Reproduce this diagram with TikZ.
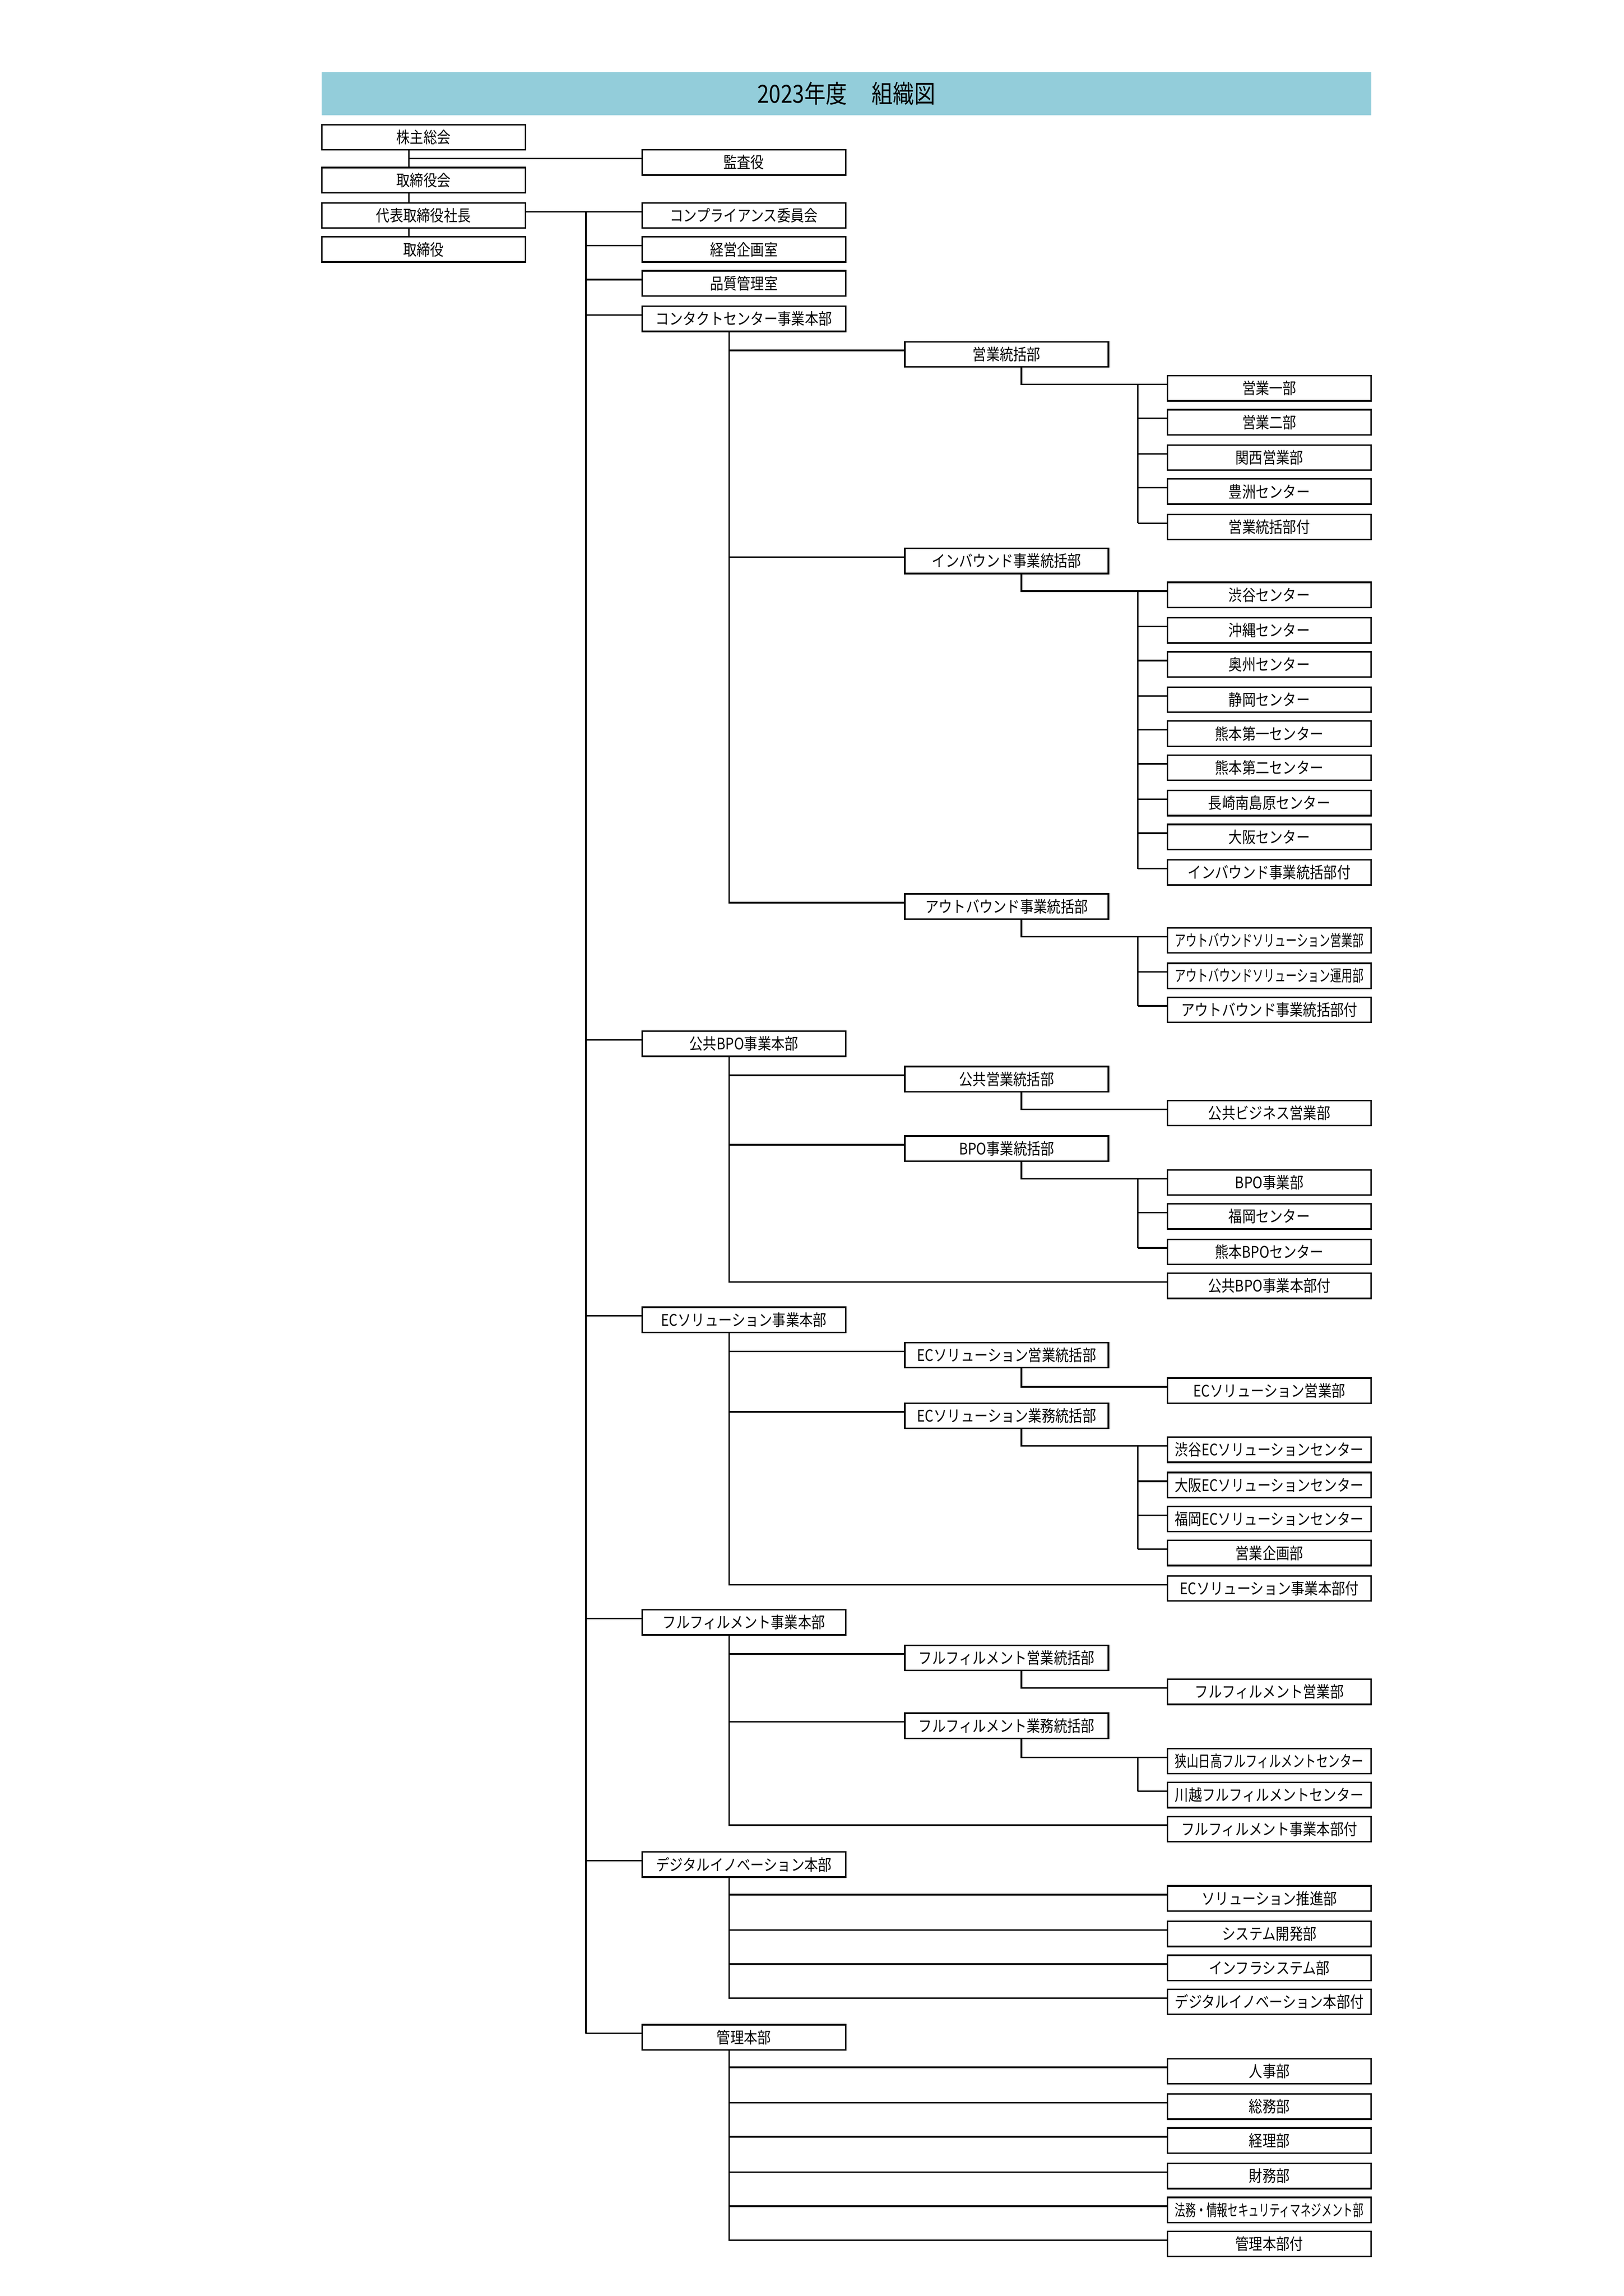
\documentclass[tikz,border=0pt]{standalone}
\usepackage{fontspec}
\usepackage{graphicx}
\usetikzlibrary{backgrounds}
\newfontfamily\jp[FakeStretch=0.85]{Noto Sans CJK JP}
\definecolor{ttl}{HTML}{93CDDA}
\newsavebox\tb
\newcommand\fitt[1]{\sbox\tb{#1}\ifdim\wd\tb>34.5mm \pgfmathsetmacro\rr{98.16/\wd\tb}\scalebox{\rr}[1]{\usebox\tb}\else\usebox\tb\fi}
\tikzset{bx/.style={draw,line width=0.8pt,fill=white,minimum width=37.26mm,minimum height=4.6mm,inner sep=0pt,font=\jp\fontsize{8.3}{9}\selectfont},
ln/.style={line width=0.8pt}}
\newcommand\bx[4]{\node[bx] (#1) at (#2,#3) {\fitt{#4}}; \coordinate (#1-w) at ([yshift=0.7mm]#1.west);}
\newcommand\kids[2]{\foreach \yy/\tt [count=\i] in {#2} {\bx{#1\i}{860}{\yy}{\tt}}}
\newcommand\wire[2]{\draw[ln] (#1.south -| B) |- (#11-w);
 \ifnum#2>1 \draw[ln] (C |- #11-w) -- (C |- #1#2-w);
 \foreach \i in {2,...,#2} {\draw[ln] (C |- #1\i-w) -- (#1\i-w);}\fi}
\begin{document}
\begin{tikzpicture}[x=0.27mm,y=-0.27mm]
\useasboundingbox (0,0) rectangle (1100,1555.3);
\fill[ttl] (218,49) rectangle (929,78);
\node[font=\jp\fontsize{13}{14}\selectfont] (title) at (573.5,63.5) {2023年度\quad 組織図};
\coordinate (L) at (277,0);
\coordinate (T) at (397,0);
\coordinate (A) at (494,0);
\coordinate (B) at (692,0);
\coordinate (C) at (771,0);
% left column
\bx{kabu}{287}{93}{株主総会}
\bx{torikai}{287}{122}{取締役会}
\bx{dai}{287}{146}{代表取締役社長}
\bx{tori}{287}{169}{取締役}
\bx{kansa}{504}{110}{監査役}
% L1
\bx{comp}{504}{146}{コンプライアンス委員会}
\bx{kei}{504}{169}{経営企画室}
\bx{hin}{504}{192}{品質管理室}
\bx{cc}{504}{216}{コンタクトセンター事業本部}
\bx{bpo}{504}{707}{公共BPO事業本部}
\bx{ec}{504}{894}{ECソリューション事業本部}
\bx{ff}{504}{1099}{フルフィルメント事業本部}
\bx{di}{504}{1263}{デジタルイノベーション本部}
\bx{kn}{504}{1380}{管理本部}
% contact center
\bx{ega}{682}{240}{営業統括部}
\kids{ega}{263/営業一部,286/営業二部,310/関西営業部,333/豊洲センター,357/営業統括部付}
\bx{inb}{682}{380}{インバウンド事業統括部}
\kids{inb}{403/渋谷センター,427/沖縄センター,450/奥州センター,474/静岡センター,497/熊本第一センター,520/熊本第二センター,544/長崎南島原センター,567/大阪センター,591/インバウンド事業統括部付}
\bx{outb}{682}{614}{アウトバウンド事業統括部}
\kids{outb}{637/アウトバウンドソリューション営業部,661/アウトバウンドソリューション運用部,684/アウトバウンド事業統括部付}
% BPO
\bx{kok}{682}{731}{公共営業統括部}
\kids{kok}{754/公共ビジネス営業部}
\bx{bpj}{682}{778}{BPO事業統括部}
\kids{bpj}{801/BPO事業部,824/福岡センター,848/熊本BPOセンター}
\bx{bpotsuki}{860}{871}{公共BPO事業本部付}
% EC
\bx{ecs}{682}{918}{ECソリューション営業統括部}
\kids{ecs}{942/ECソリューション営業部}
\bx{ecg}{682}{959}{ECソリューション業務統括部}
\kids{ecg}{982/渋谷ECソリューションセンター,1006/大阪ECソリューションセンター,1029/福岡ECソリューションセンター,1052/営業企画部}
\bx{ectsuki}{860}{1076}{ECソリューション事業本部付}
% FF
\bx{ffs}{682}{1123}{フルフィルメント営業統括部}
\kids{ffs}{1146/フルフィルメント営業部}
\bx{ffg}{682}{1169}{フルフィルメント業務統括部}
\kids{ffg}{1193/狭山日高フルフィルメントセンター,1216/川越フルフィルメントセンター}
\bx{fftsuki}{860}{1239}{フルフィルメント事業本部付}
% digital
\foreach \yy/\tt [count=\i] in {1286/ソリューション推進部,1310/システム開発部,1333/インフラシステム部,1356/デジタルイノベーション本部付} {\bx{dig\i}{860}{\yy}{\tt}}
% kanri
\foreach \yy/\tt [count=\i] in {1403/人事部,1427/総務部,1450/経理部,1474/財務部,1497/法務・情報セキュリティマネジメント部,1520/管理本部付} {\bx{kan\i}{860}{\yy}{\tt}}
\begin{pgfonlayer}{background}
\draw[ln] (L |- kabu.south) -- (L |- tori.north);
\draw[ln] (L |- kansa-w) -- (kansa-w);
\draw[ln] ([yshift=0.7mm]dai.east) -- (comp-w);
\draw[ln] (T |- comp-w) -- (T |- kn-w);
\foreach \n in {kei,hin,cc,bpo,ec,ff,di,kn} {\draw[ln] (T |- \n-w) -- (\n-w);}
% contact center
\draw[ln] (cc.south -| A) |- (outb-w);
\draw[ln] (A |- ega-w) -- (ega-w);
\draw[ln] (A |- inb-w) -- (inb-w);
\wire{ega}{5}
\wire{inb}{9}
\wire{outb}{3}
% BPO
\draw[ln] (bpo.south -| A) |- (bpotsuki-w);
\draw[ln] (A |- kok-w) -- (kok-w);
\draw[ln] (A |- bpj-w) -- (bpj-w);
\wire{kok}{1}
\wire{bpj}{3}
% EC
\draw[ln] (ec.south -| A) |- (ectsuki-w);
\draw[ln] (A |- ecs-w) -- (ecs-w);
\draw[ln] (A |- ecg-w) -- (ecg-w);
\wire{ecs}{1}
\wire{ecg}{4}
% FF
\draw[ln] (ff.south -| A) |- (fftsuki-w);
\draw[ln] (A |- ffs-w) -- (ffs-w);
\draw[ln] (A |- ffg-w) -- (ffg-w);
\wire{ffs}{1}
\wire{ffg}{2}
% digital
\draw[ln] (di.south -| A) |- (dig4-w);
\foreach \i in {1,2,3} {\draw[ln] (A |- dig\i-w) -- (dig\i-w);}
% kanri
\draw[ln] (kn.south -| A) |- (kan6-w);
\foreach \i in {1,...,5} {\draw[ln] (A |- kan\i-w) -- (kan\i-w);}
\end{pgfonlayer}
\end{tikzpicture}
\end{document}
